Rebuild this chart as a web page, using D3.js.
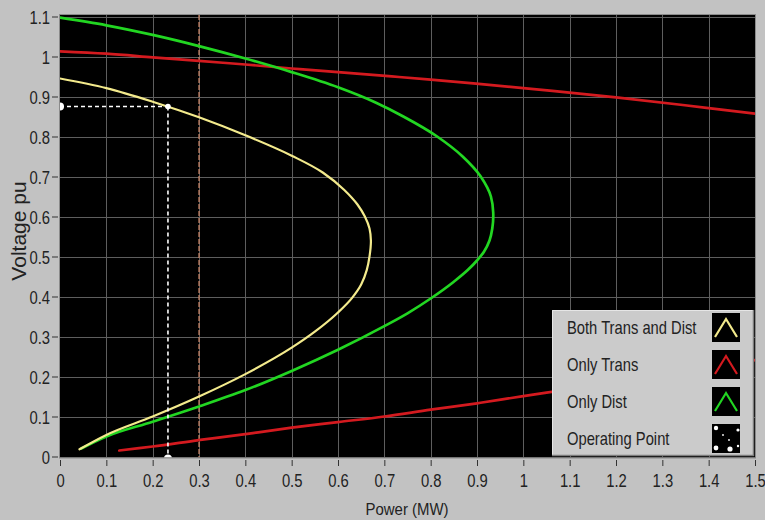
<!DOCTYPE html>
<html>
<head>
<meta charset="utf-8">
<script src="https://cdn.jsdelivr.net/npm/d3@7"></script>
<style>
  html, body { margin: 0; padding: 0; background: #c2c2c2; }
  svg { display: block; }
  .lbl { font-family: "Liberation Sans", Arial, sans-serif; fill: #222; }
</style>
</head>
<body>
<svg id="chart" width="765" height="520"></svg>
<script>
// Axis ticks
const xTicks = [0, 0.1, 0.2, 0.3, 0.4, 0.5, 0.6, 0.7, 0.8, 0.9, 1, 1.1, 1.2, 1.3, 1.4, 1.5];
const yTicks = [0, 0.1, 0.2, 0.3, 0.4, 0.5, 0.6, 0.7, 0.8, 0.9, 1, 1.1];

// P-V curves: [power MW, voltage pu], ordered along each curve
const bothTransDist = [
  [0, 0.945], [0.1, 0.921], [0.2, 0.887], [0.3, 0.848], [0.4, 0.803], [0.5, 0.752],
  [0.567, 0.710], [0.613, 0.667], [0.642, 0.630], [0.658, 0.600], [0.668, 0.570],
  [0.671, 0.540], [0.668, 0.500], [0.662, 0.466], [0.650, 0.430], [0.630, 0.396],
  [0.600, 0.360], [0.550, 0.312], [0.500, 0.272], [0.400, 0.206], [0.300, 0.150],
  [0.200, 0.100], [0.100, 0.054], [0.042, 0.018]
];
const onlyDist = [
  [0, 1.097], [0.1, 1.078], [0.2, 1.054], [0.3, 1.026], [0.4, 0.995], [0.5, 0.961],
  [0.6, 0.923], [0.681, 0.885], [0.741, 0.850], [0.814, 0.800], [0.869, 0.750],
  [0.908, 0.700], [0.930, 0.650], [0.935, 0.610], [0.933, 0.570], [0.927, 0.540],
  [0.915, 0.512], [0.900, 0.490], [0.880, 0.466], [0.850, 0.437], [0.800, 0.395],
  [0.750, 0.358], [0.700, 0.326], [0.600, 0.267], [0.500, 0.214], [0.400, 0.166],
  [0.300, 0.125], [0.200, 0.087], [0.100, 0.050], [0.046, 0.020]
];
const onlyTransUpper = [
  [0, 1.013], [0.1, 1.007], [0.2, 0.998], [0.3, 0.989], [0.4, 0.980], [0.5, 0.970],
  [0.6, 0.961], [0.8, 0.942], [1.0, 0.921], [1.2, 0.898], [1.4, 0.871], [1.5, 0.857]
];
const onlyTransLower = [
  [0.128, 0.015], [0.2, 0.025], [0.3, 0.041], [0.4, 0.056], [0.5, 0.072], [0.6, 0.086],
  [0.7, 0.100], [0.8, 0.117], [0.9, 0.133], [1.0, 0.151], [1.1, 0.168], [1.2, 0.186],
  [1.3, 0.204], [1.4, 0.222], [1.5, 0.241]
];

// Operating point and load limit marker
const operatingPoint = [0.233, 0.875];
const powerLimit = 0.3;

const legendNames = ["Both Trans and Dist", "Only Trans", "Only Dist", "Operating Point"];
const colors = { both: "#f3ea8c", trans: "#d41a1f", dist: "#22d622" };

const svg = d3.select("#chart");
const W = 765, H = 520;
const plot = { left: 60, right: 755, top: 15, bottom: 457.5 };

const x = d3.scaleLinear().domain([0, 1.5]).range([60, 755]);
const y = d3.scaleLinear().domain([0, 1.1]).range([456.5, 16.5]);

svg.append("rect").attr("width", W).attr("height", H).attr("fill", "#c2c2c2");

// plot background
svg.append("rect")
  .attr("x", plot.left).attr("y", plot.top)
  .attr("width", plot.right - plot.left).attr("height", plot.bottom - plot.top)
  .attr("fill", "#000");

svg.append("clipPath").attr("id", "clip")
  .append("rect")
  .attr("x", plot.left).attr("y", plot.top)
  .attr("width", plot.right - plot.left).attr("height", plot.bottom - plot.top);

// grid
const grid = svg.append("g").attr("stroke", "#5e5e5e").attr("stroke-width", 1);
grid.selectAll(".gx").data(xTicks.slice(1, -1)).join("line")
  .attr("x1", d => Math.round(x(d)) + 0.5).attr("x2", d => Math.round(x(d)) + 0.5)
  .attr("y1", plot.top).attr("y2", plot.bottom);
grid.selectAll(".gy").data(yTicks.slice(1)).join("line")
  .attr("y1", d => Math.round(y(d)) + 0.5).attr("y2", d => Math.round(y(d)) + 0.5)
  .attr("x1", plot.left).attr("x2", plot.right);

const g = svg.append("g").attr("clip-path", "url(#clip)");

// load limit line
g.append("line")
  .attr("x1", x(powerLimit)).attr("x2", x(powerLimit))
  .attr("y1", plot.top).attr("y2", plot.bottom)
  .attr("stroke", "#d08868").attr("stroke-width", 1.2)
  .attr("stroke-dasharray", "5,2");

const line = d3.line()
  .x(d => x(d[0])).y(d => y(d[1]))
  .curve(d3.curveCatmullRom.alpha(1));

const series = [
  { data: onlyTransUpper, color: colors.trans, w: 2.7 },
  { data: onlyTransLower, color: colors.trans, w: 2.7 },
  { data: onlyDist, color: colors.dist, w: 2.7 },
  { data: bothTransDist, color: colors.both, w: 2.2 }
];
g.selectAll(".curve").data(series).join("path")
  .attr("d", d => line(d.data))
  .attr("fill", "none")
  .attr("stroke", d => d.color)
  .attr("stroke-width", d => d.w)
  .attr("stroke-linejoin", "round")
  .attr("stroke-linecap", "round");

// operating point cursor
const px = x(operatingPoint[0]), py = y(operatingPoint[1]);
const cur = g.append("g").attr("stroke", "#fff").attr("stroke-width", 1.6).attr("stroke-dasharray", "4,3");
cur.append("line").attr("x1", plot.left).attr("x2", px).attr("y1", py).attr("y2", py);
cur.append("line").attr("x1", px).attr("x2", px).attr("y1", py).attr("y2", y(0));
g.append("circle").attr("cx", plot.left).attr("cy", py).attr("r", 4).attr("fill", "#fff");
g.append("circle").attr("cx", px).attr("cy", y(0) + 2).attr("r", 4).attr("fill", "#fff");
g.append("circle").attr("cx", px).attr("cy", py).attr("r", 2.8).attr("fill", "#fff");

// plot border
svg.append("rect")
  .attr("x", plot.left - 0.5).attr("y", plot.top - 0.5)
  .attr("width", plot.right - plot.left + 1).attr("height", plot.bottom - plot.top + 1)
  .attr("fill", "none").attr("stroke", "#8a8a8a").attr("stroke-width", 1);

// x axis
const xAxis = svg.append("g")
  .attr("transform", `translate(0,${plot.bottom + 2.5})`)
  .call(d3.axisBottom(x).tickValues(xTicks).tickSize(6).tickPadding(0).tickFormat(d => String(d)));
xAxis.select(".domain").remove();
xAxis.selectAll(".tick line").attr("stroke", "#333");
xAxis.selectAll(".tick text").attr("class", "lbl").attr("font-size", 19)
  .attr("y", 0).attr("dy", 0)
  .attr("transform", "translate(0,27) scale(0.78,1)");

// y axis
const yAxis = svg.append("g")
  .attr("transform", `translate(${plot.left - 2},0)`)
  .call(d3.axisLeft(y).tickValues(yTicks).tickSize(6).tickPadding(0).tickFormat(d => String(d)));
yAxis.select(".domain").remove();
yAxis.selectAll(".tick line").attr("stroke", "#333");
yAxis.selectAll(".tick text").attr("class", "lbl").attr("font-size", 19)
  .attr("x", 0).attr("dy", 0).attr("y", 0)
  .attr("transform", "translate(-8,7) scale(0.78,1)");

// axis titles
svg.append("text").attr("class", "lbl")
  .attr("transform", "translate(407,515) scale(0.88,1)").attr("text-anchor", "middle")
  .attr("font-size", 17).text("Power (MW)");
svg.append("text").attr("class", "lbl")
  .attr("transform", "translate(26,231) rotate(-90)").attr("text-anchor", "middle")
  .attr("font-size", 21).text("Voltage pu");

// legend
const lg = svg.append("g").attr("transform", "translate(552,310)");
lg.append("rect").attr("width", 202).attr("height", 146).attr("fill", "#cbcbcb");
lg.append("path").attr("d", "M0.5,146 V0.5 H202").attr("fill", "none").attr("stroke", "#e6e6e6");
lg.append("path").attr("d", "M201.5,0 V145.5 H0").attr("fill", "none").attr("stroke", "#7c7c7c").attr("stroke-width", 1.5);

const rowColors = [colors.both, colors.trans, colors.dist, null];
const rows = lg.selectAll(".row").data(legendNames).join("g")
  .attr("transform", (d, i) => `translate(0,${3 + i * 37})`);
rows.append("text").attr("class", "lbl")
  .attr("transform", "translate(15,21) scale(0.82,1)")
  .attr("font-size", 18).text(d => d);
rows.append("rect").attr("x", 160).attr("y", 0).attr("width", 28).attr("height", 29).attr("fill", "#000");
rows.filter((d, i) => rowColors[i] !== null).append("path")
  .attr("d", "M163,24 L174,6 L185,24")
  .attr("fill", "none")
  .attr("stroke", (d, i) => rowColors[i])
  .attr("stroke-width", 2.2);

// operating point swatch: scattered cursor dots
const dots = [[164, 4, 2.2], [186, 6, 1.6], [171, 11, 0.9], [177, 16, 0.9], [164, 24, 2.4], [178, 25, 2.6], [186, 22, 1.2]];
rows.filter((d, i) => i === 3).selectAll("circle").data(dots).join("circle")
  .attr("cx", d => d[0]).attr("cy", d => d[1]).attr("r", d => d[2]).attr("fill", "#fff");
</script>
</body>
</html>
